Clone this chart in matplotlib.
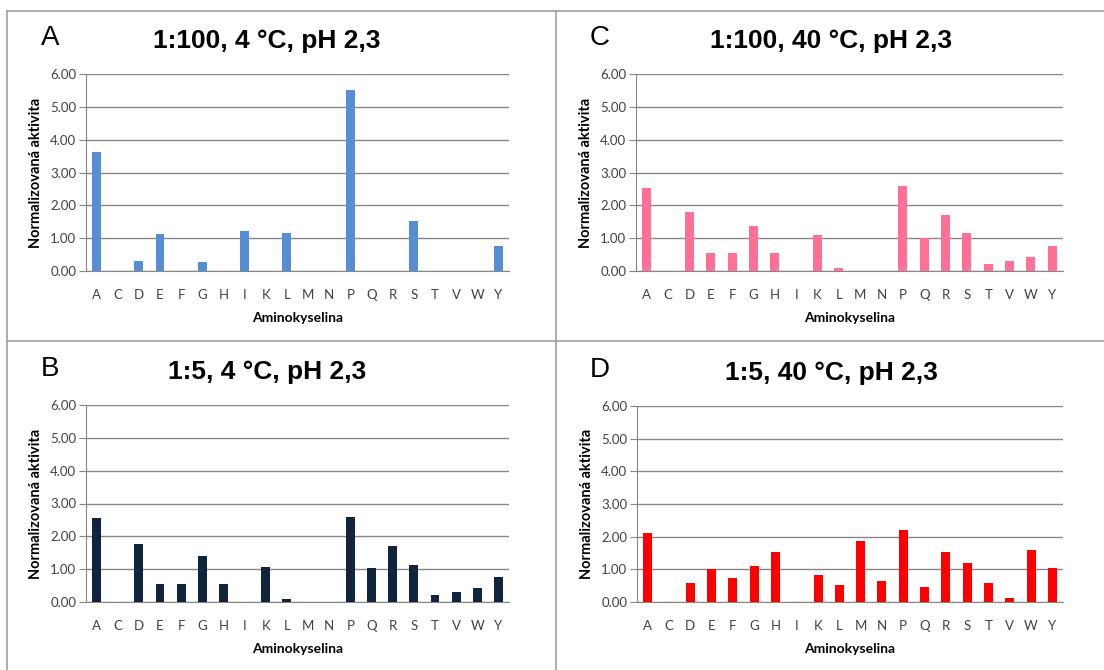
import matplotlib
matplotlib.use("Agg")
import matplotlib.pyplot as plt
from matplotlib.lines import Line2D

# aminokyseliny na ose x
aminokyseliny = ["A", "C", "D", "E", "F", "G", "H", "I", "K", "L",
                 "M", "N", "P", "Q", "R", "S", "T", "V", "W", "Y"]

# normalizovana aktivita pro jednotlive podminky
hodnoty_a = [3.62, 0, 0.30, 1.12, 0, 0.28, 0, 1.23, 0, 1.17,
             0, 0, 5.52, 0, 0, 1.53, 0, 0, 0, 0.76]
hodnoty_b = [2.55, 0, 1.78, 0.55, 0.55, 1.40, 0.55, 0, 1.08, 0.10,
             0, 0, 2.60, 1.04, 1.71, 1.14, 0.22, 0.31, 0.43, 0.77]
hodnoty_c = [2.53, 0, 1.80, 0.55, 0.55, 1.38, 0.55, 0, 1.09, 0.10,
             0, 0, 2.60, 1.02, 1.70, 1.15, 0.21, 0.30, 0.43, 0.76]
hodnoty_d = [2.12, 0, 0.57, 1.00, 0.75, 1.11, 1.52, 0, 0.82, 0.53,
             1.86, 0.64, 2.20, 0.46, 1.54, 1.20, 0.59, 0.12, 1.59, 1.05]

W, H = 1104, 670
fig = plt.figure(figsize=(W / 100, H / 100), dpi=100)
fig.patch.set_facecolor("white")


def px_axes(x0, y0, x1, y1):
    # prevod pixelovych souradnic (odshora) na souradnice obrazku
    return fig.add_axes([x0 / W, 1 - y1 / H, (x1 - x0) / W, (y1 - y0) / H])


panely = [
    ("A", "1:100, 4 °C, pH 2,3", hodnoty_a, "#558ed5", (86, 74, 509, 271), 50, 267),
    ("C", "1:100, 40 °C, pH 2,3", hodnoty_c, "#ff7096", (636, 74, 1063, 271), 600, 831),
    ("B", "1:5, 4 °C, pH 2,3", hodnoty_b, "#10243e", (86, 405, 509, 602), 50, 267),
    ("D", "1:5, 40 °C, pH 2,3", hodnoty_d, "#ff0000", (637, 406, 1063, 602), 600, 831),
]

for pismeno, titulek, hodnoty, barva, box, px_pis, px_tit in panely:
    ax = px_axes(*box)
    x = range(len(aminokyseliny))
    ax.bar(x, hodnoty, width=0.42, color=barva, zorder=3)
    ax.set_xlim(-0.5, len(aminokyseliny) - 0.5)
    ax.set_ylim(0, 6)
    ax.set_yticks([0, 1, 2, 3, 4, 5, 6])
    ax.set_yticklabels([f"{v:.2f}" for v in range(7)], fontsize=9.5, family="Lato", color="#404040")
    ax.set_xticks(list(x))
    ax.set_xticklabels(aminokyseliny, fontsize=9.5, family="Lato", color="#404040")
    ax.tick_params(axis="x", length=0, pad=13)
    ax.tick_params(axis="y", length=5, color="#868686", pad=2)
    ax.grid(axis="y", color="#868686", linewidth=1, zorder=0)
    for s in ["top", "right"]:
        ax.spines[s].set_visible(False)
    ax.spines["left"].set_color("#868686")
    ax.spines["bottom"].set_color("#868686")
    ax.set_ylabel("Normalizovaná aktivita", fontsize=10.5, fontweight="bold", family="Lato", labelpad=5)
    ax.set_xlabel("Aminokyselina", fontsize=10, fontweight="bold", family="Lato", labelpad=8)

    y_tit = box[1] - 33
    fig.text(px_tit / W, 1 - y_tit / H, titulek, fontsize=19, fontweight="bold",
             family="Liberation Sans", ha="center", va="center")
    fig.text(px_pis / W, 1 - (y_tit - 3) / H, pismeno, fontsize=20,
             family="Liberation Sans", ha="center", va="center")

# sede ramecky panelu
sed = "#a0a0a0"
for (x0, y0, x1, y1) in [(7, 11, 7, 670), (556, 11, 556, 670), (7, 11, 1104, 11), (7, 341, 1104, 341)]:
    fig.add_artist(Line2D([x0 / W, x1 / W], [1 - y0 / H, 1 - y1 / H], color=sed, linewidth=1.2))

fig.savefig("out.png", dpi=100)
